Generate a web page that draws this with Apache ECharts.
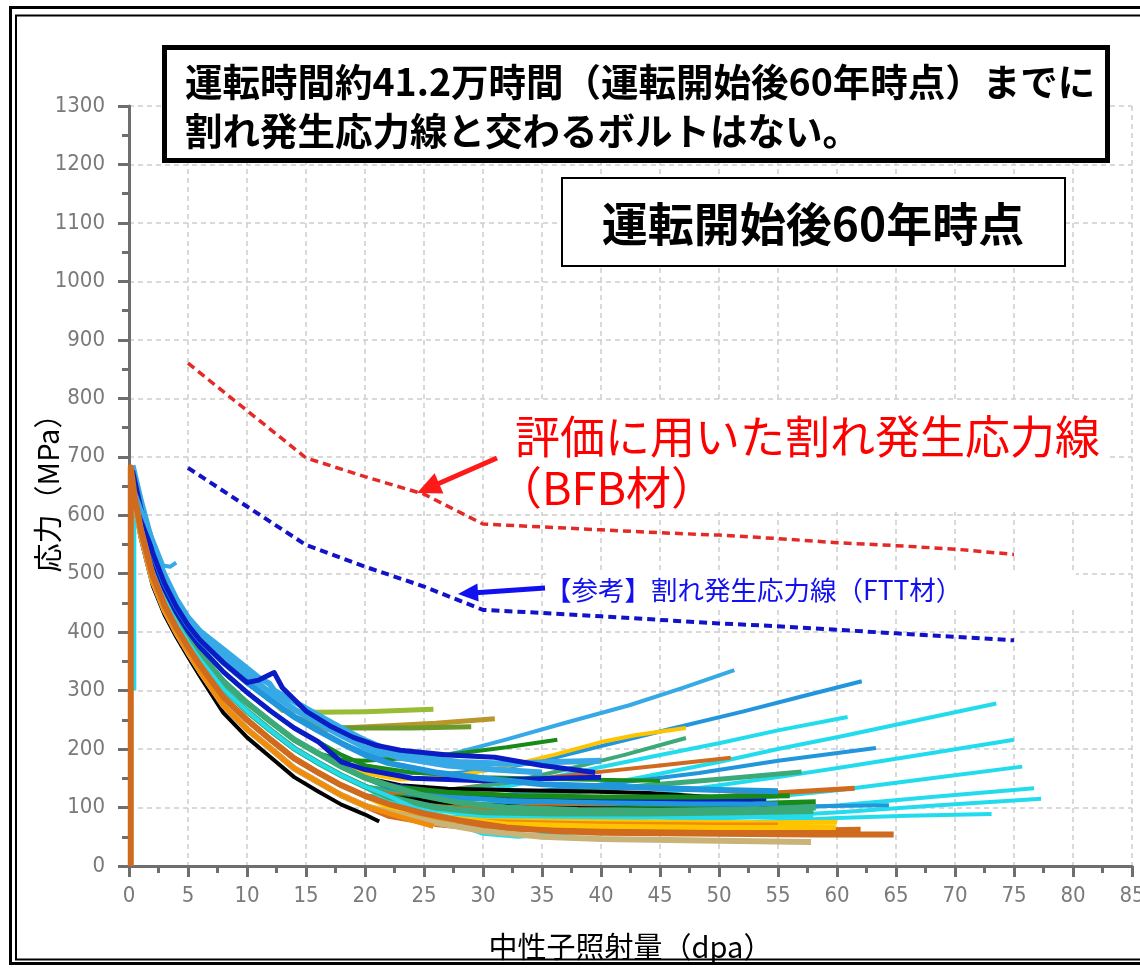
<!DOCTYPE html>
<html><head><meta charset="utf-8">
<script src="https://cdn.jsdelivr.net/npm/echarts/dist/echarts.min.js"></script>
<style>html,body{margin:0;padding:0;background:#fff}#c{width:1140px;height:969px}</style>
</head><body><div id="c"></div><script>
// ---- axes ----
const X_MIN = 0, X_MAX = 85, X_STEP = 5;
const Y_MIN = 0, Y_MAX = 1300, Y_STEP = 100;
const X_TITLE = '中性子照射量（dpa）';
const Y_TITLE = '応力（MPa）';
const TITLE_1 = '運転時間約41.2万時間（運転開始後60年時点）までに';
const TITLE_2 = '割れ発生応力線と交わるボルトはない。';
const BOX_TEXT = '運転開始後60年時点';
const RED_LABEL_1 = '評価に用いた割れ発生応力線';
const RED_LABEL_2 = '（BFB材）';
const BLUE_LABEL = '【参考】割れ発生応力線（FTT材）';

// ---- crack initiation stress lines ----
const bfbLine = [[5,860],[10,779],[15,698],[20,666],[25,636],[30,585],[35,580],[40,575],[45,570],[50,566],[55,560],[60,553],[65,548],[70,542],[75,533]];
const fttLine = [[5,681],[10,615],[15,549],[20,512],[25,478],[30,438],[35,433],[40,427],[45,421],[50,415],[55,410],[60,404],[65,398],[70,392],[75,386]];

// ---- bolt stress histories ----
const b01 = [[0.3,640],[1,560],[2,480],[3,430],[4,392],[5,358],[6,325],[8,262],[10,220],[12,186],[14,152],[16,128],[18,105],[20,88],[21.2,76]];
const b02 = [[0.3,645],[1,568],[2,488],[3,438],[4,400],[5,366],[6,334],[8,275],[10,234],[12,201],[14,167],[16,144],[18,121],[20,103],[22,90],[24,78],[25.8,68]];
const b03 = [[0.15,0],[0.15,682],[0.5,630],[1,576],[2,498],[3,447],[4,408],[5,375],[6,344],[8,289],[10,250],[12,216],[14,184],[16,160],[18,138],[20,120],[22,106],[25,90],[28,78],[32,66],[36,60],[40,57],[50,55],[58,54],[64.8,54]];
const b04 = [[0.3,645],[1,568],[2,488],[3,438],[4,400],[5,366],[6,334],[8,275],[10,234],[12,201],[14,167],[16,144],[18,121],[20,103],[22,92],[26,74],[30,60],[35,50],[40,46],[50,43],[57.8,41]];
const b05 = [[0.3,651],[1,576],[2,498],[3,447],[4,408],[5,375],[6,344],[8,289],[10,250],[12,216],[14,184],[16,160],[18,138],[20,120],[22,104],[25,90],[28,80],[32,72],[40,68],[50,66],[59.9,66]];
const b06 = [[0.45,300],[0.45,640],[1,585],[2,507],[3,456],[4,417],[5,383],[6,354],[8,303],[10,265],[12,232],[14,201],[16,177],[18,155],[20,136],[22,120],[25,92],[28,70],[30,55],[33,50],[38,58],[45,66],[52,74],[60,82],[66,86],[73.1,89]];
const b07 = [[0.3,662],[1,592],[2,515],[3,464],[4,424],[5,391],[6,363],[8,316],[10,279],[12,247],[14,216],[16,193],[18,170],[20,151],[22,138],[25,120],[28,108],[32,100],[38,96],[45,95],[52,96],[58.2,100]];
const b08 = [[0.3,662],[1,592],[2,515],[3,464],[4,424],[5,391],[6,363],[8,316],[10,279],[12,247],[14,216],[16,193],[18,182],[20,180],[24,185],[28,193],[32,203],[36.3,216]];
const b09 = [[0.3,676],[1,612],[2,536],[3,484],[4,444],[5,412],[6,387],[8,348],[10,314],[12,284],[13,266],[16,263],[20,264],[25.8,268]];
const b10 = [[0.3,676],[1,612],[2,536],[3,484],[4,444],[5,412],[6,387],[8,348],[10,314],[12,284],[14,255],[16,232],[18,236],[22,240],[26,244],[31,252]];
const b11 = [[0.3,676],[1,612],[2,536],[3,484],[4,444],[5,412],[6,387],[8,348],[10,314],[12,284],[14,255],[16,240],[18,236],[24,236],[29,238]];
const b12 = [[0.3,676],[1,612],[2,536],[3,484],[4,444],[5,412],[6,387],[8,348],[10,314],[12,284],[14,255],[16,232],[18,210],[20,195],[22,185],[25,182],[28,195],[31.7,215],[37,245],[42.4,275],[47,305],[51.3,335]];
const b13 = [[0.3,669],[1,602],[2,525],[3,474],[4,434],[5,402],[6,375],[8,332],[10,297],[12,265],[14,236],[16,213],[18,190],[20,172],[23,160],[27,158],[31,165],[35,180],[40,205],[45.6,233],[52,264],[57,290],[62.1,316]];
const b14 = [[0.3,662],[1,592],[2,515],[3,464],[4,424],[5,391],[6,363],[8,316],[10,279],[12,247],[14,216],[16,193],[18,170],[20,151],[23,135],[27,128],[31,132],[35,148],[39.9,169],[45,190],[50,210],[55,232],[60.9,255]];
const b15 = [[0.3,657],[1,585],[2,507],[3,456],[4,417],[5,383],[6,354],[8,303],[10,265],[12,232],[14,201],[16,177],[18,155],[20,136],[23,118],[26,108],[28,104],[32,110],[37,128],[43,150],[50,178],[55,200],[60.2,221],[66,246],[73.5,278]];
const b16 = [[0.3,662],[1,592],[2,515],[3,464],[4,424],[5,391],[6,363],[8,316],[10,279],[12,247],[14,216],[16,193],[18,170],[20,151],[23,132],[27,118],[32,122],[38,135],[43,146],[48.3,159],[55,180],[63.3,202]];
const b17 = [[0.3,657],[1,585],[2,507],[3,456],[4,417],[5,383],[6,354],[8,303],[10,265],[12,232],[14,201],[16,177],[18,155],[20,136],[22,120],[26,100],[30,92],[35,100],[40,110],[45,124],[50,138],[55,152],[60.2,168],[67,190],[75,216]];
const b18 = [[0.3,651],[1,576],[2,498],[3,447],[4,408],[5,375],[6,344],[8,289],[10,250],[12,216],[14,184],[16,160],[18,138],[20,120],[23,100],[27,85],[31,80],[36,84],[42,95],[48,105],[54,117],[60.2,130],[68,150],[75.7,170]];
const b19 = [[0.3,651],[1,576],[2,498],[3,447],[4,408],[5,375],[6,344],[8,289],[10,250],[12,216],[14,184],[16,160],[18,138],[20,120],[23,98],[27,82],[31,74],[36,74],[42,80],[48,88],[54,96],[60.2,104],[68,118],[76.7,133]];
const b20 = [[0.3,645],[1,568],[2,488],[3,438],[4,400],[5,366],[6,334],[8,275],[10,234],[12,201],[14,167],[16,144],[18,121],[20,103],[22,92],[26,76],[30,68],[36,68],[42,73],[48,79],[54,85],[60.2,92],[68,103],[77.3,115]];
const b21 = [[0.3,662],[1,592],[2,515],[3,464],[4,424],[5,391],[6,363],[8,316],[10,279],[12,247],[14,216],[16,193],[18,170],[20,158],[23,148],[27,152],[31.5,168],[36,190],[40,212],[43,224],[47.2,236]];
const b22 = [[0.3,657],[1,585],[2,507],[3,456],[4,417],[5,383],[6,354],[8,303],[10,265],[12,232],[14,201],[16,177],[18,155],[20,136],[23,128],[27,130],[32,142],[37,165],[42,190],[47.2,219]];
const b23 = [[0.3,657],[1,585],[2,507],[3,456],[4,417],[5,383],[6,354],[8,303],[10,265],[12,232],[14,201],[16,177],[18,155],[20,136],[22,125],[26,128],[30,138],[35,150],[39.9,161],[45,172],[51,185]];
const b24 = [[0.3,651],[1,576],[2,498],[3,447],[4,408],[5,375],[6,344],[8,289],[10,250],[12,216],[14,184],[16,160],[18,138],[20,120],[23,112],[27,112],[32,118],[39.9,130],[45,140],[51,150],[57,161]];
const b25 = [[0.3,651],[1,576],[2,498],[3,447],[4,408],[5,375],[6,344],[8,289],[10,250],[12,216],[14,184],[16,160],[18,138],[20,120],[23,108],[27,100],[32,100],[40,106],[47,114],[53.3,123],[61.5,133]];
const b26 = [[0.3,657],[1,585],[2,507],[3,456],[4,417],[5,383],[6,354],[8,303],[10,265],[12,232],[14,201],[16,177],[18,155],[20,136],[23,118],[27,106],[32,100],[40,100],[48,104],[58.2,110]];
const b27 = [[0.3,676],[1,612],[2,536],[3,484],[4,444],[5,412],[6,387],[8,348],[10,314],[11,318],[12.3,331],[13,305],[15,265],[17,240],[19,220],[21,206],[23,198],[27,190],[31,186],[35,172],[39.5,160]];
const b28 = [[0.3,669],[1,602],[2,525],[3,474],[4,434],[5,402],[6,375],[8,332],[10,297],[12,265],[14,236],[16,213],[18,178],[20,165],[24,150],[30,146],[36,150],[40,152]];
const b29 = [[0.3,662],[1,592],[2,515],[3,464],[4,424],[5,391],[6,363],[8,316],[10,279],[12,247],[14,216],[16,193],[18,170],[20,151],[23,138],[27,132],[32,130],[38,128],[44,125],[50,117],[55,100]];
const b30 = [[0.5,640],[1,612],[2,560],[2.9,514],[3.5,512],[4,519]];
const b31 = [[0.3,685],[1,625],[2,550],[3,498],[4,457],[5,425],[6,402],[8,370],[10,338],[11,322],[11.9,312],[12.3,300],[14,281],[16,258],[18,236],[20,215],[22,198],[25,185],[28,178],[32,175],[36,178],[40,180]];
const b32 = [[0.3,676],[1,612],[2,536],[3,484],[4,444],[5,412],[6,387],[8,348],[10,314],[12,284],[14,255],[16,232],[18,210],[20,190],[22,176],[26,160],[30,150],[35,140],[42,135],[50,130],[55,128]];
const b33 = [[0.3,680],[1,618],[2,543],[3,491],[4,450],[5,418],[6,395],[8,360],[10,326],[12,296],[14,268],[16,245],[18,223],[20,203],[23,185],[27,172],[31,165],[35,160]];
const b34 = [[0.3,645],[1,568],[2,488],[3,438],[4,400],[5,366],[6,334],[8,275],[10,234],[12,201],[14,167],[16,144],[18,121],[20,103],[22,92],[25,82],[30,76],[40,72],[50,70],[55,70]];
const b35 = [[0.3,645],[1,568],[2,488],[3,438],[4,400],[5,366],[6,334],[8,275],[10,234],[12,201],[14,167],[16,144],[18,121],[20,103],[22,94],[25,84],[28,76],[32,68],[40,64],[50,62],[57,62]];
const b36 = [[0.3,657],[1,585],[2,507],[3,456],[4,417],[5,383],[6,354],[8,303],[10,265],[12,232],[14,201],[16,177],[18,155],[20,136],[22,125],[26,112],[30,106],[40,104],[50,102],[58,102],[64.4,104]];
const b37 = [[0.3,662],[1,592],[2,515],[3,464],[4,424],[5,391],[6,363],[8,316],[10,279],[12,247],[14,216],[16,193],[18,170],[20,151],[22,140],[26,128],[32,118],[40,112],[48,112],[54,114]];
const b38 = [[0.3,669],[1,602],[2,525],[3,474],[4,434],[5,402],[6,375],[8,332],[10,297],[12,265],[14,236],[16,213],[18,190],[20,172],[24,160],[30,152],[38,148],[45,146]];
const b39 = [[0.3,657],[1,585],[2,507],[3,456],[4,417],[5,383],[6,354],[8,303],[10,265],[12,232],[14,201],[16,177],[18,155],[20,136],[22,118],[26,100],[30,92],[36,90],[44,90],[52,92],[58,94]];
const b40 = [[0.3,651],[1,576],[2,498],[3,447],[4,408],[5,375],[6,344],[8,289],[10,250],[12,216],[14,184],[16,160],[18,138],[20,120],[22,100],[26,84],[30,78],[38,76],[46,75],[54,74],[60,75]];
const b41 = [[0.3,645],[1,568],[2,488],[3,438],[4,400],[5,366],[6,334],[8,275],[10,234],[12,201],[14,167],[16,144],[18,121],[20,103],[22,86],[26,72],[30,64],[38,62],[48,60],[56,60],[62,62]];
const b42 = [[0.3,657],[1,585],[2,507],[3,456],[4,417],[5,383],[6,354],[8,303],[10,265],[12,232],[14,201],[16,177],[18,155],[20,136],[22,112],[26,96],[30,86],[38,84],[46,84],[54,84],[58,86]];
const b43 = [[0.3,662],[1,592],[2,515],[3,464],[4,424],[5,391],[6,363],[8,316],[10,279],[12,247],[14,216],[16,193],[18,170],[20,151],[22,134],[26,120],[32,112],[40,108],[48,106],[55,106]];
const b44 = [[0.3,662],[1,592],[2,515],[3,464],[4,424],[5,391],[6,363],[8,316],[10,279],[12,247],[14,216],[16,193],[18,170],[20,151],[22,136],[27,126],[33,120],[40,118],[48,118],[56,120]];
const b45 = [[0.3,657],[1,585],[2,507],[3,456],[4,417],[5,383],[6,354],[8,303],[10,265],[12,232],[14,201],[16,177],[18,155],[20,136],[22,118],[27,108],[34,100],[42,98],[50,96],[55,96]];

// colours
const C_LBLUE = '#36a9e6', C_BLUE = '#2196dc', C_CYAN = '#22dcee', C_DBLUE = '#0b1cc4',
      C_BLACK = '#000000', C_ORANGE = '#f08c0a', C_CHOC = '#d06a1e', C_YELLOW = '#ffc400',
      C_GREEN = '#178a17', C_SEA = '#3caa78', C_YGREEN = '#98bc34', C_GOLD = '#b8962c',
      C_OLIVE = '#6b9a2b', C_TAN = '#c8b478', C_RED = '#e42a26', C_NAVY = '#1212c8';

// drawing order (bottom first), colours and widths
const boltOrder = [b15,b17,b18,b19,b20,b14,b16,b13,b12,b36,b26,b24,b25,b23,b22,b21,b08,b29,b37,b38,b43,b44,b45,b42,b39,b07,b06,b10,b11,b09,b28,b32,b33,b31,b27,b30,b01,b40,b35,b34,b41,b05,b04,b02,b03];
const boltColor = [C_CYAN,C_CYAN,C_CYAN,C_CYAN,C_CYAN,C_CYAN,C_BLUE,C_BLUE,C_LBLUE,C_BLUE,C_GREEN,C_SEA,C_CHOC,C_CHOC,C_SEA,C_YELLOW,C_GREEN,C_BLACK,C_DBLUE,C_GREEN,C_BLUE,C_GREEN,C_BLACK,C_CYAN,C_SEA,C_SEA,C_CYAN,C_GOLD,C_OLIVE,C_YGREEN,C_DBLUE,C_BLUE,C_LBLUE,C_LBLUE,C_DBLUE,C_LBLUE,C_BLACK,C_YELLOW,C_YELLOW,C_ORANGE,C_CHOC,C_YELLOW,C_TAN,C_ORANGE,C_CHOC];
const boltWidth = [4,4,4,4,4,4,4,4,4,4,5,5,5,4,4,4,4,4,4,4,5,5,4,5,6,6,4,5,5,5,5,6,6,6,5,4,4,5,5,5,6,5,6,5,6];

const series = boltOrder.map((d, i) => ({
  type: 'line', data: d, symbol: 'none', silent: true, z: 2,
  lineStyle: { color: boltColor[i], width: boltWidth[i], join: 'round' }
}));
series.push({ type: 'line', data: fttLine, symbol: 'none', z: 5, silent: true,
  lineStyle: { color: C_NAVY, width: 4, type: [8, 5] } });
series.push({ type: 'line', data: bfbLine, symbol: 'none', z: 5, silent: true,
  lineStyle: { color: C_RED, width: 3.5, type: [8, 5] } });

const TICK_FONT = "'Liberation Sans Narrow', 'DejaVu Sans Condensed', sans-serif";
const JP_FONT = "'Noto Sans CJK JP', 'Noto Sans', sans-serif";
const axisCommon = {
  axisLine: { show: true, onZero: false, lineStyle: { color: '#6e6e6e', width: 3 } },
  axisTick: { show: true, inside: false, length: 11, lineStyle: { color: '#6e6e6e', width: 3 } },
  minorTick: { show: true, splitNumber: 2, length: 7, lineStyle: { color: '#6e6e6e', width: 3 } },
  splitLine: { show: true, lineStyle: { color: '#cdcdcd', width: 1.5, type: [5, 4] } },
  nameMoveOverlap: false,
  nameTextStyle: { color: '#000', fontSize: 29, fontFamily: JP_FONT }
};

const chart = echarts.init(document.getElementById('c'), null, { renderer: 'canvas' });
chart.setOption({
  animation: false,
  backgroundColor: '#ffffff',
  grid: { left: 129, right: 8, top: 106, bottom: 103, containLabel: false, outerBoundsMode: 'none' },
  xAxis: Object.assign({}, axisCommon, {
    type: 'value', min: X_MIN, max: X_MAX, interval: X_STEP,
    name: X_TITLE, nameLocation: 'middle', nameGap: 66,
    axisLabel: { color: '#7a7a7a', fontSize: 22, fontFamily: TICK_FONT, margin: 19, showMaxLabel: true, formatter: v => String(v) }
  }),
  yAxis: Object.assign({}, axisCommon, {
    type: 'value', min: Y_MIN, max: Y_MAX, interval: Y_STEP,
    name: Y_TITLE, nameLocation: 'middle', nameGap: 67, nameRotate: 90,
    axisLabel: { color: '#7a7a7a', fontSize: 22, fontFamily: TICK_FONT, margin: 24, formatter: v => String(v) }
  }),
  series: series,
  graphic: [
    // page frame
    { type: 'rect', silent: true, z: 100, shape: { x: 10.5, y: 7.5, width: 1150, height: 956 }, style: { fill: 'none', stroke: '#000', lineWidth: 3 } },
    { type: 'rect', silent: true, z: 100, shape: { x: 16, y: 15.5, width: 1150, height: 944 }, style: { fill: 'none', stroke: '#000', lineWidth: 2 } },
    // headline box
    { type: 'rect', silent: true, z: 50, shape: { x: 164.5, y: 47.5, width: 943, height: 113 }, style: { fill: '#fff', stroke: '#000', lineWidth: 5 } },
    { type: 'text', silent: true, z: 51, x: 185, y: 82, style: { text: TITLE_1, fill: '#000', fontSize: 37.5, fontWeight: 'bold', fontFamily: JP_FONT, align: 'left', verticalAlign: 'middle' } },
    { type: 'text', silent: true, z: 51, x: 185, y: 131, style: { text: TITLE_2, fill: '#000', fontSize: 37.5, fontWeight: 'bold', fontFamily: JP_FONT, align: 'left', verticalAlign: 'middle' } },
    // 60 year box
    { type: 'rect', silent: true, z: 50, shape: { x: 562, y: 178, width: 503, height: 88 }, style: { fill: '#fff', stroke: '#000', lineWidth: 2 } },
    { type: 'text', silent: true, z: 51, x: 813, y: 224, style: { text: BOX_TEXT, fill: '#000', fontSize: 46, fontWeight: 'bold', fontFamily: JP_FONT, align: 'center', verticalAlign: 'middle' } },
    // red label
    { type: 'rect', silent: true, z: 1, shape: { x: 497, y: 400, width: 613, height: 112 }, style: { fill: '#fff' } },
    { type: 'text', silent: true, z: 6, x: 515, y: 437, style: { text: RED_LABEL_1, fill: '#ff0000', fontSize: 45, fontFamily: JP_FONT, align: 'left', verticalAlign: 'middle' } },
    { type: 'text', silent: true, z: 6, x: 497, y: 488, style: { text: RED_LABEL_2, fill: '#ff0000', fontSize: 45, fontFamily: JP_FONT, align: 'left', verticalAlign: 'middle' } },
    { type: 'line', silent: true, z: 6, shape: { x1: 497, y1: 458, x2: 437, y2: 484.3 }, style: { stroke: '#ff1a1a', lineWidth: 5 } },
    { type: 'polygon', silent: true, z: 6, shape: { points: [[417, 493], [443.4, 493.5], [434.6, 473.3]] }, style: { fill: '#ff1a1a' } },
    // blue label
    { type: 'rect', silent: true, z: 1, shape: { x: 546, y: 570, width: 530, height: 38 }, style: { fill: '#fff' } },
    { type: 'text', silent: true, z: 6, x: 545, y: 590, style: { text: BLUE_LABEL, fill: '#1010f0', fontSize: 26.5, fontFamily: JP_FONT, align: 'left', verticalAlign: 'middle' } },
    { type: 'line', silent: true, z: 6, shape: { x1: 545, y1: 588, x2: 476, y2: 592.8 }, style: { stroke: '#1010f0', lineWidth: 5 } },
    { type: 'polygon', silent: true, z: 6, shape: { points: [[458, 594], [478.6, 601.6], [477.4, 583.6]] }, style: { fill: '#1010f0' } }
  ]
});
</script></body></html>
